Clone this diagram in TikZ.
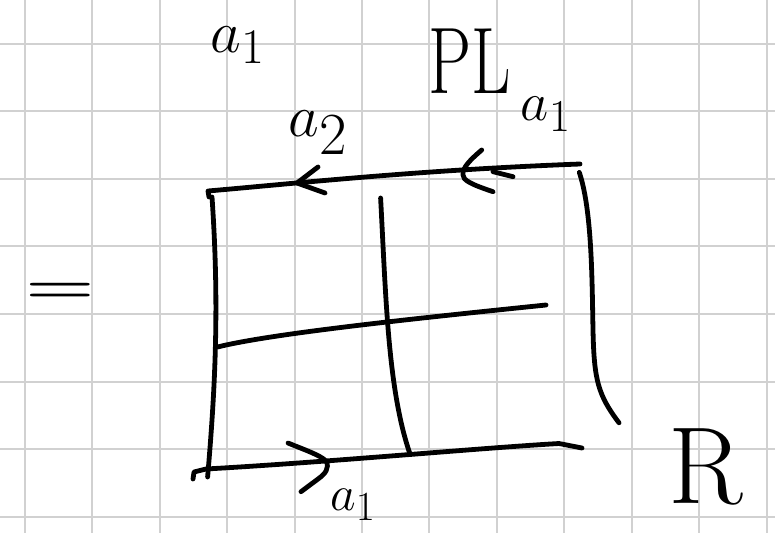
\documentclass[tikz,border=0pt]{standalone}
\usepackage{tikz}
\begin{document}
\begin{tikzpicture}[x=1pt,y=-1pt,
  ink/.style={line width=4.8pt,line cap=round,line join=round,black},
  gridl/.style={line width=2pt,color=black!18},
  lbl/.style={inner sep=0pt,text=black,font=\Huge}]
\useasboundingbox (0,0) rectangle (775,533);
\fill[white] (0,0) rectangle (775,533);
% grid
\foreach \i in {0,...,11} {\draw[gridl] ({24.7+67.45*\i},0) -- ({24.7+67.45*\i},533);}
\foreach \j in {0,...,7} {\draw[gridl] (0,{43.5+67.6*\j}) -- (775,{43.5+67.6*\j});}
% corner coordinates
\coordinate (tl) at (208,191);
\coordinate (tr) at (580,164);
\coordinate (bl) at (194,472);
\coordinate (br) at (582,448);
% top edge
\draw[ink] (209,197) -- (tl) .. controls (300,183) and (420,170) .. (tr);
% left edge
\draw[ink] (212,197) .. controls (219,300) and (216,380) .. (207.6,477);
% middle horizontal
\draw[ink] (217.5,347) .. controls (270,334) and (400,320) .. (546,305);
% middle vertical
\draw[ink] (380.6,198) .. controls (386,300) and (388,390) .. (410,454);
% right edge
\draw[ink] (579.3,172.4) .. controls (592,210) and (592,280) .. (593,330) .. controls (594,380) and (598,395) .. (619,422.8);
% bottom edge
\draw[ink] (193,479) -- (bl) -- (206,469) .. controls (330,462) and (480,448) .. (559,443.5) -- (br);
% arrows on top edge
\draw[ink] (318,167) -- (297,183) -- (325,193);
\draw[ink] (481.7,150) .. controls (470,160) and (462,168) .. (463,175) .. controls (463,180) and (470,184) .. (493,191.7);
\draw[ink] (493,171.7) -- (513,176.7);
% arrow on bottom edge
\draw[ink] (288,443) .. controls (305,450) and (320,455) .. (326,461) .. controls (330,468) and (325,474) .. (318,479) -- (301,491.7);
% labels
\node[lbl,scale=2.4] (la1) at (238,45) {$a_1$};
\node[lbl,scale=2.4] (la2) at (318,133) {$a_{\textstyle 2}$};
\node[lbl,scale=2.2] (lr1) at (546,114) {$a_1$};
\node[lbl,xscale=2.75,yscale=3.8] (pl) at (470,61) {PL};
\node[lbl,scale=2.0] (lb1) at (353,505) {$a_1$};
\node[lbl,scale=4.4] (R) at (706,467) {R};
\node[lbl,xscale=3.2,yscale=2] (eq) at (60,293) {\bfseries =};
\end{tikzpicture}
\end{document}
